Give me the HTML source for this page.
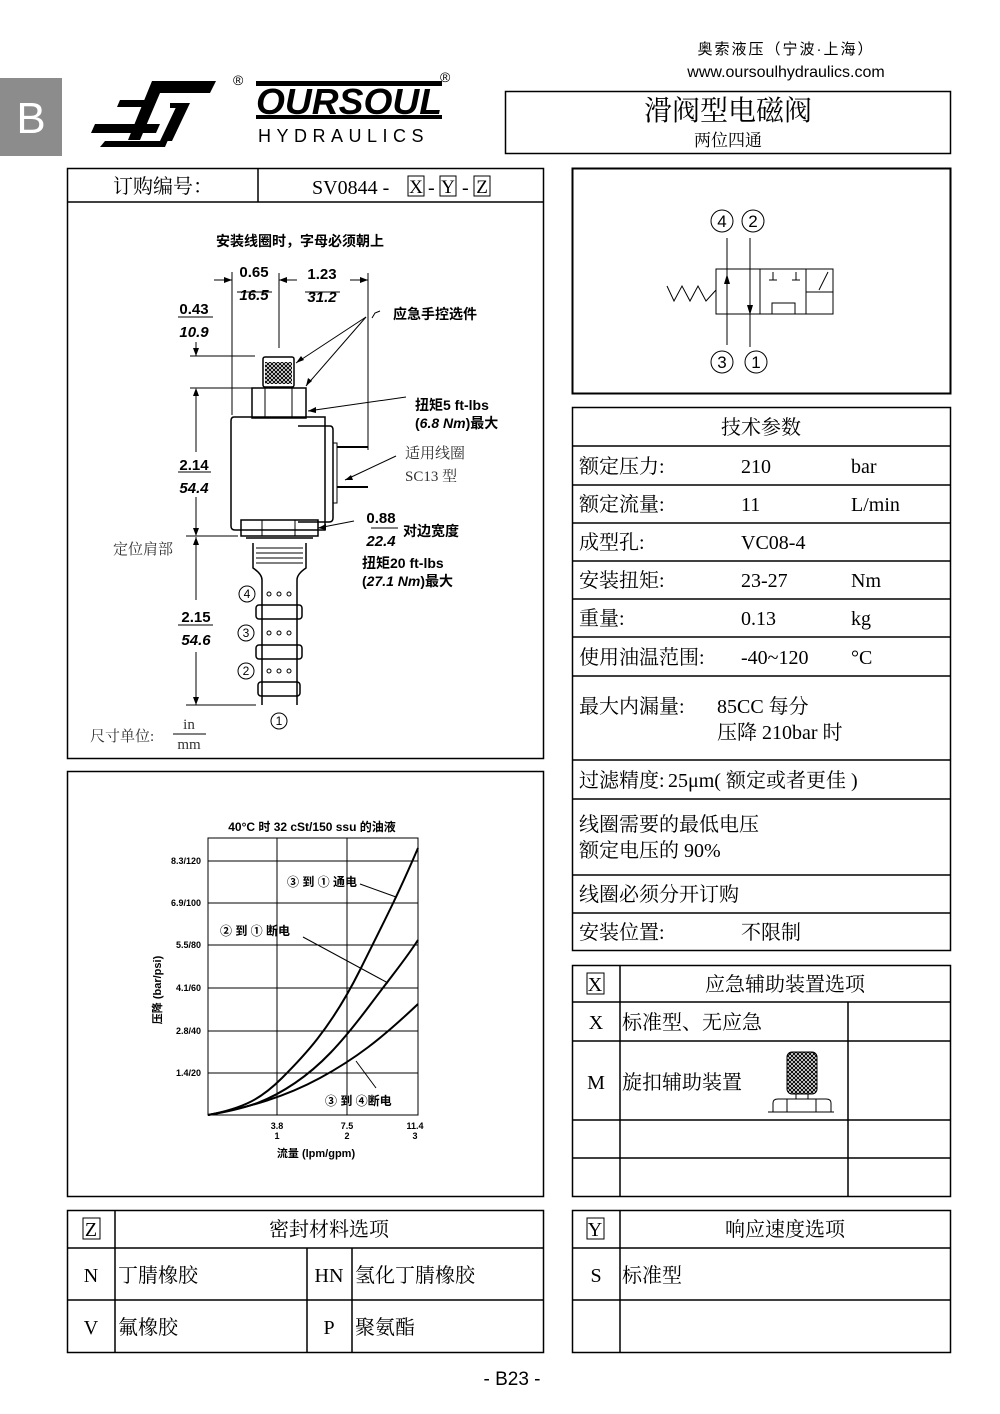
<!DOCTYPE html>
<html><head><meta charset="utf-8"><style>
html,body{margin:0;padding:0;background:#fff}
svg{display:block}
.s{font-family:"Liberation Serif","Noto Serif CJK SC",serif}
.a{font-family:"Liberation Sans","Noto Sans CJK SC",sans-serif}
.b{font-weight:bold}
</style></head><body>
<svg width="1000" height="1414" viewBox="0 0 1000 1414" xmlns="http://www.w3.org/2000/svg">
<!-- header -->
<text x="786" y="54" class="a" font-size="15" text-anchor="middle" letter-spacing="2">奥索液压（宁波·上海）</text>
<text x="786" y="77" class="a" font-size="16" text-anchor="middle">www.oursoulhydraulics.com</text>
<rect x="0" y="78" width="62" height="78" fill="#8c8c8c"/>
<text x="31" y="133" class="a" font-size="44" fill="#fff" text-anchor="middle">B</text>
<!-- logo -->
<g fill="#000">
<polygon points="152,81 216,81 210,93 160,93 140,140 128,140"/>
<polygon points="95,124 160,124 156,133 91,133"/>
<polygon points="120,100 150,100 147,107 117,107"/>
<polygon points="105,141 160,141 178,103 184,103 165,147 100,147"/>
<polygon points="170,103 190,103 172,141 165,141 180,108 170,108"/>
</g>
<text x="233" y="85" class="a" font-size="14">®</text>
<rect x="256" y="81" width="186" height="5" fill="#000"/>
<rect x="256" y="115" width="186" height="4" fill="#000"/>
<text x="256" y="114" class="a b" font-size="36" font-style="italic" textLength="186" lengthAdjust="spacingAndGlyphs">OURSOUL</text>
<text x="440" y="82" class="a" font-size="14">®</text>
<text x="258" y="142" class="a" font-size="18" letter-spacing="5.5">HYDRAULICS</text>
<rect x="505.5" y="91.5" width="445" height="62" fill="none" stroke="#000" stroke-width="1.5"/>
<text x="728" y="120" class="s" font-size="28" text-anchor="middle">滑阀型电磁阀</text>
<text x="728" y="146" class="s" font-size="17" text-anchor="middle">两位四通</text>

<g fill="none" stroke="#000" stroke-width="1.5">
<rect x="67.5" y="168.5" width="476" height="590"/>
<line x1="67" y1="202" x2="543" y2="202"/>
<line x1="258" y1="168" x2="258" y2="202"/>
<rect x="572.5" y="168.5" width="378" height="225" stroke-width="2"/>
<rect x="67.5" y="771.5" width="476" height="425"/>
</g>
<text x="163" y="193" class="s" font-size="20" text-anchor="middle">订购编号：</text>
<text x="312" y="194" class="s" font-size="20">SV0844 -</text>
<rect x="408" y="176" width="16" height="20" fill="none" stroke="#000"/><text x="416" y="193" class="s" font-size="19" text-anchor="middle">X</text>
<text x="428" y="194" class="s" font-size="20">-</text>
<rect x="440" y="176" width="16" height="20" fill="none" stroke="#000"/><text x="448" y="193" class="s" font-size="19" text-anchor="middle">Y</text>
<text x="462" y="194" class="s" font-size="20">-</text>
<rect x="474" y="176" width="16" height="20" fill="none" stroke="#000"/><text x="482" y="193" class="s" font-size="19" text-anchor="middle">Z</text>

<!-- valve drawing -->
<text x="300" y="246" class="a b" font-size="14" text-anchor="middle">安装线圈时，字母必须朝上</text>
<g stroke="#000" stroke-width="1" fill="none">
<line x1="232" y1="272" x2="232" y2="415"/>
<line x1="279" y1="273" x2="279" y2="348"/>
<line x1="368" y1="273" x2="368" y2="450"/>
<line x1="214" y1="280" x2="232" y2="280"/><line x1="279" y1="280" x2="297" y2="280"/><line x1="350" y1="280" x2="368" y2="280"/>
<line x1="190" y1="356" x2="255" y2="356"/>
<line x1="190" y1="388" x2="252" y2="388"/>
<line x1="196" y1="342" x2="196" y2="356"/>
<line x1="196" y1="390" x2="196" y2="452"/><line x1="196" y1="497" x2="196" y2="535"/>
<line x1="196" y1="537" x2="196" y2="600"/><line x1="196" y1="652" x2="196" y2="705"/>
<line x1="186" y1="536" x2="238" y2="536"/>
<line x1="186" y1="705" x2="256" y2="705"/>
<line x1="178" y1="317" x2="213" y2="317"/>
<line x1="178" y1="472" x2="211" y2="472"/>
<line x1="178" y1="625" x2="213" y2="625"/>
<line x1="237" y1="292" x2="272" y2="292"/>
<line x1="305" y1="292" x2="340" y2="292"/>
<line x1="173" y1="734" x2="206" y2="734"/>
<line x1="371" y1="528" x2="398" y2="528"/>
<line x1="366" y1="317" x2="296" y2="363"/>
<line x1="366" y1="317" x2="306" y2="386"/>
<polyline points="372,318 375,313 380,311"/>
<line x1="406" y1="397" x2="308" y2="411"/>
<line x1="396" y1="456" x2="345" y2="480"/>
<line x1="354" y1="521" x2="318" y2="528"/>
<rect x="263" y="357" width="31" height="30" rx="2" stroke-width="1.5"/>
<rect x="252" y="388" width="54" height="30" stroke-width="1.5"/>
<line x1="265" y1="388" x2="265" y2="418"/><line x1="292" y1="388" x2="292" y2="418"/>
<path d="M234,417 H325 V425 M234,417 Q231,417 231,421 V526 Q231,530 235,530 H325 V423" stroke-width="1.5"/>
<path d="M298,426 H330 Q333,426 333,430 V518 Q333,522 329,522 H298" stroke-width="1.5"/>
<rect x="333" y="443" width="4" height="60"/>
<line x1="337" y1="447" x2="368" y2="447" stroke-width="2"/>
<line x1="337" y1="487" x2="368" y2="487" stroke-width="2"/>
<rect x="241" y="520" width="77" height="16" stroke-width="1.5"/>
<line x1="262" y1="520" x2="262" y2="536"/><line x1="295" y1="520" x2="295" y2="536"/>
<path d="M246,538 H313 M253,543 V568 Q262,574 262,580 V705 M306,543 V568 Q297,574 297,580 V705" stroke-width="1.5"/>
<line x1="256" y1="548" x2="303" y2="548"/><line x1="256" y1="553" x2="303" y2="553"/><line x1="256" y1="558" x2="303" y2="558"/><line x1="256" y1="563" x2="303" y2="563"/>
<rect x="256" y="605" width="46" height="14" rx="3" stroke-width="1.5"/>
<rect x="256" y="645" width="46" height="14" rx="3" stroke-width="1.5"/>
<rect x="258" y="682" width="42" height="14" rx="3" stroke-width="1.5"/>
</g>
<g fill="#000">
<polygon points="232,280 224,277 224,283"/><polygon points="279,280 287,277 287,283"/><polygon points="368,280 360,277 360,283"/>
<polygon points="196,356 193,348 199,348"/><polygon points="196,388 193,396 199,396"/>
<polygon points="196,536 193,528 199,528"/><polygon points="196,537 193,545 199,545"/><polygon points="196,705 193,697 199,697"/>
<polygon points="296,363 301,356 304,360"/><polygon points="306,386 308,378 312,381"/><polygon points="308,411 316,407 316,413"/><polygon points="345,480 351,475 353,480"/><polygon points="318,528 326,524 326,530"/>
</g>
<pattern id="kn" width="4" height="4" patternUnits="userSpaceOnUse"><rect width="4" height="4" fill="#fff"/><path d="M0,0 L4,4 M4,0 L0,4" stroke="#000" stroke-width="1"/></pattern>
<rect x="265" y="362" width="27" height="22" fill="url(#kn)"/>
<g fill="none" stroke="#000" stroke-width="1">
<circle cx="269" cy="594" r="2"/><circle cx="279" cy="594" r="2"/><circle cx="289" cy="594" r="2"/>
<circle cx="269" cy="633" r="2"/><circle cx="279" cy="633" r="2"/><circle cx="289" cy="633" r="2"/>
<circle cx="269" cy="671" r="2"/><circle cx="279" cy="671" r="2"/><circle cx="289" cy="671" r="2"/>
</g>
<g class="a b" font-size="15" text-anchor="middle">
<text x="254" y="277">0.65</text><text x="254" y="300" font-style="italic">16.5</text>
<text x="322" y="279">1.23</text><text x="322" y="302" font-style="italic">31.2</text>
<text x="194" y="314">0.43</text><text x="194" y="337" font-style="italic">10.9</text>
<text x="194" y="470">2.14</text><text x="194" y="493" font-style="italic">54.4</text>
<text x="196" y="622">2.15</text><text x="196" y="645" font-style="italic">54.6</text>
<text x="381" y="523">0.88</text><text x="381" y="546" font-style="italic">22.4</text>
</g>
<g class="a b" font-size="14">
<text x="393" y="319">应急手控选件</text>
<text x="415" y="410">扭矩5 ft-lbs</text>
<text x="415" y="428">(<tspan font-style="italic">6.8 Nm</tspan>)最大</text>
<text x="403" y="536">对边宽度</text>
<text x="362" y="568">扭矩20 ft-lbs</text>
<text x="362" y="586">(<tspan font-style="italic">27.1 Nm</tspan>)最大</text>
</g>
<g class="s" font-size="15" fill="#333">
<text x="405" y="458">适用线圈</text><text x="405" y="481">SC13 型</text>
<text x="113" y="554">定位肩部</text>
<text x="90" y="741">尺寸单位:</text>
<text x="189" y="729" text-anchor="middle">in</text><text x="189" y="749" text-anchor="middle">mm</text>
</g>
<g fill="none" stroke="#000"><circle cx="247" cy="594" r="8"/><circle cx="246" cy="633" r="8"/><circle cx="246" cy="671" r="8"/><circle cx="279" cy="721" r="8"/></g>
<g class="a" font-size="12" text-anchor="middle"><text x="247" y="598">4</text><text x="246" y="637">3</text><text x="246" y="675">2</text><text x="279" y="725">1</text></g>

<!-- symbol -->
<g fill="none" stroke="#000" stroke-width="1">
<rect x="716" y="269" width="117" height="45"/>
<line x1="760" y1="269" x2="760" y2="314"/><line x1="806" y1="269" x2="806" y2="314"/>
<line x1="806" y1="292" x2="833" y2="292"/>
<line x1="819" y1="290" x2="828" y2="272"/>
<polyline points="667,286 674,301 682,286 690,301 698,286 706,301 716,290"/>
<line x1="727" y1="238" x2="727" y2="345"/><line x1="750" y1="238" x2="750" y2="347"/>
<line x1="773" y1="272" x2="773" y2="280"/><line x1="769" y1="280" x2="777" y2="280"/>
<line x1="796" y1="272" x2="796" y2="280"/><line x1="792" y1="280" x2="800" y2="280"/>
<rect x="772" y="303" width="23" height="11"/>
<circle cx="722" cy="221" r="11"/><circle cx="753" cy="221" r="11"/><circle cx="722" cy="362" r="11"/><circle cx="756" cy="362" r="11"/>
</g>
<polygon points="727,274 724,284 730,284"/><polygon points="750,315 747,305 753,305"/>
<g class="a" font-size="17" text-anchor="middle"><text x="722" y="227">4</text><text x="753" y="227">2</text><text x="722" y="368">3</text><text x="756" y="368">1</text></g>

<!-- tech table -->
<g fill="none" stroke="#000" stroke-width="1.5">
<rect x="572.5" y="407.5" width="378" height="543"/>
<line x1="572" y1="446" x2="950" y2="446"/><line x1="572" y1="485" x2="950" y2="485"/><line x1="572" y1="523" x2="950" y2="523"/><line x1="572" y1="561" x2="950" y2="561"/><line x1="572" y1="599" x2="950" y2="599"/><line x1="572" y1="637" x2="950" y2="637"/><line x1="572" y1="676" x2="950" y2="676"/><line x1="572" y1="760" x2="950" y2="760"/><line x1="572" y1="799" x2="950" y2="799"/><line x1="572" y1="875" x2="950" y2="875"/><line x1="572" y1="913" x2="950" y2="913"/>
</g>
<g class="s" font-size="20">
<text x="761" y="434" text-anchor="middle">技术参数</text>
<text x="579" y="473">额定压力:</text><text x="741" y="473">210</text><text x="851" y="473">bar</text>
<text x="579" y="511">额定流量:</text><text x="741" y="511">11</text><text x="851" y="511">L/min</text>
<text x="579" y="549">成型孔:</text><text x="741" y="549">VC08-4</text>
<text x="579" y="587">安装扭矩:</text><text x="741" y="587">23-27</text><text x="851" y="587">Nm</text>
<text x="579" y="625">重量:</text><text x="741" y="625">0.13</text><text x="851" y="625">kg</text>
<text x="579" y="664">使用油温范围:</text><text x="741" y="664">-40~120</text><text x="851" y="664">°C</text>
<text x="579" y="713">最大内漏量:</text><text x="717" y="713">85CC 每分</text><text x="717" y="739">压降 210bar 时</text>
<text x="579" y="787">过滤精度:</text><text x="668" y="787">25μm( 额定或者更佳 )</text>
<text x="579" y="831">线圈需要的最低电压</text><text x="579" y="857">额定电压的 90%</text>
<text x="579" y="901">线圈必须分开订购</text>
<text x="579" y="939">安装位置:</text><text x="741" y="939">不限制</text>
</g>

<!-- X table -->
<g fill="none" stroke="#000" stroke-width="1.5">
<rect x="572.5" y="965.5" width="378" height="231"/>
<line x1="572" y1="1002" x2="950" y2="1002"/><line x1="572" y1="1041" x2="950" y2="1041"/><line x1="572" y1="1120" x2="950" y2="1120"/><line x1="572" y1="1158" x2="950" y2="1158"/>
<line x1="620" y1="965" x2="620" y2="1196"/><line x1="848" y1="1002" x2="848" y2="1196"/>
</g>
<rect x="587" y="973" width="17" height="21" fill="none" stroke="#000"/>
<g class="s" font-size="20">
<text x="595" y="991" text-anchor="middle">X</text>
<text x="785" y="991" text-anchor="middle">应急辅助装置选项</text>
<text x="596" y="1029" text-anchor="middle">X</text><text x="622" y="1029">标准型、无应急</text>
<text x="596" y="1089" text-anchor="middle">M</text><text x="622" y="1089">旋扣辅助装置</text>
</g>
<rect x="787" y="1052" width="30" height="42" rx="5" fill="url(#kn)" stroke="#000"/>
<rect x="796" y="1094" width="12" height="5" fill="none" stroke="#000"/>
<path d="M773,1112 V1103 Q773,1099 778,1099 H826 Q831,1099 831,1103 V1112 M768,1112 H834 M787,1099 V1112 M816,1099 V1112" fill="none" stroke="#000"/>

<!-- chart -->
<text x="312" y="831" class="a b" font-size="12" text-anchor="middle">40°C 时 32 cSt/150 ssu 的油液</text>
<g stroke="#000" stroke-width="1" fill="none">
<rect x="208" y="838" width="210" height="277"/>
<line x1="277" y1="838" x2="277" y2="1115"/><line x1="347" y1="838" x2="347" y2="1115"/>
<line x1="208" y1="861" x2="418" y2="861"/><line x1="208" y1="903" x2="418" y2="903"/><line x1="208" y1="945" x2="418" y2="945"/><line x1="208" y1="988" x2="418" y2="988"/><line x1="208" y1="1031" x2="418" y2="1031"/><line x1="208" y1="1073" x2="418" y2="1073"/>
<g stroke-width="2">
<path d="M208,1115 C245,1108 262,1098 282,1078 S330,1030 360,970 S400,890 418,848"/>
<path d="M208,1115 C250,1108 270,1100 295,1083 S340,1045 370,1005 S405,960 418,940"/>
<path d="M208,1115 C250,1107 285,1097 320,1078 S380,1040 418,1004"/>
</g>
<line x1="360" y1="884" x2="396" y2="897"/>
<line x1="303" y1="937" x2="388" y2="983"/>
<line x1="376" y1="1088" x2="356" y2="1061"/>
</g>
<g class="a b" font-size="9" text-anchor="end">
<text x="201" y="864">8.3/120</text><text x="201" y="906">6.9/100</text><text x="201" y="948">5.5/80</text><text x="201" y="991">4.1/60</text><text x="201" y="1034">2.8/40</text><text x="201" y="1076">1.4/20</text>
</g>
<g class="a b" font-size="9" text-anchor="middle">
<text x="277" y="1129">3.8</text><text x="277" y="1139">1</text>
<text x="347" y="1129">7.5</text><text x="347" y="1139">2</text>
<text x="415" y="1129">11.4</text><text x="415" y="1139">3</text>
</g>
<text x="316" y="1157" class="a b" font-size="11" text-anchor="middle">流量 (lpm/gpm)</text>
<text transform="translate(161,990) rotate(-90)" class="a b" font-size="11" text-anchor="middle">压降 (bar/psi)</text>
<g class="a b" font-size="12">
<text x="287" y="886">③ 到 ① 通电</text>
<text x="220" y="935">② 到 ① 断电</text>
<text x="325" y="1105">③ 到 ④断电</text>
</g>

<!-- Z table -->
<g fill="none" stroke="#000" stroke-width="1.5">
<rect x="67.5" y="1210.5" width="476" height="142"/>
<line x1="67" y1="1248" x2="543" y2="1248"/><line x1="67" y1="1300" x2="543" y2="1300"/>
<line x1="115" y1="1210" x2="115" y2="1352"/><line x1="307" y1="1248" x2="307" y2="1352"/><line x1="352" y1="1248" x2="352" y2="1352"/>
<rect x="572.5" y="1210.5" width="378" height="142"/>
<line x1="572" y1="1248" x2="950" y2="1248"/><line x1="572" y1="1300" x2="950" y2="1300"/>
<line x1="620" y1="1210" x2="620" y2="1352"/>
</g>
<rect x="83" y="1218" width="17" height="21" fill="none" stroke="#000"/>
<rect x="587" y="1218" width="17" height="21" fill="none" stroke="#000"/>
<g class="s" font-size="20">
<text x="91" y="1236" text-anchor="middle">Z</text>
<text x="329" y="1236" text-anchor="middle">密封材料选项</text>
<text x="91" y="1282" text-anchor="middle">N</text><text x="118" y="1282">丁腈橡胶</text>
<text x="329" y="1282" text-anchor="middle">HN</text><text x="355" y="1282">氢化丁腈橡胶</text>
<text x="91" y="1334" text-anchor="middle">V</text><text x="118" y="1334">氟橡胶</text>
<text x="329" y="1334" text-anchor="middle">P</text><text x="355" y="1334">聚氨酯</text>
<text x="595" y="1236" text-anchor="middle">Y</text>
<text x="785" y="1236" text-anchor="middle">响应速度选项</text>
<text x="596" y="1282" text-anchor="middle">S</text><text x="622" y="1282">标准型</text>
</g>
<text x="512" y="1385" class="a" font-size="19" text-anchor="middle">- B23 -</text>
</svg>
</body></html>
